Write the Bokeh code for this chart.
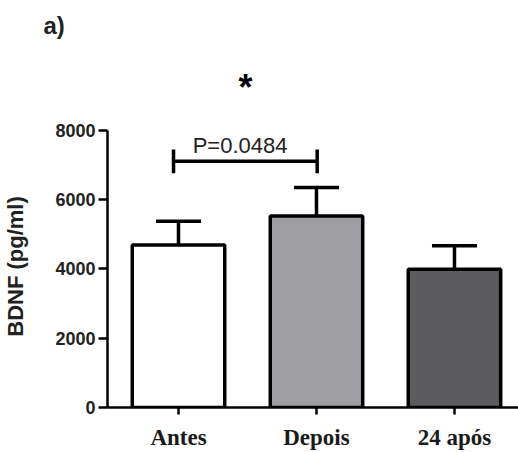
from bokeh.plotting import figure
from bokeh.models import ColumnDataSource, FixedTicker, Range1d, Label, Title
from bokeh.embed import file_html
from bokeh.resources import INLINE

# ---- data ----
groups = ["Antes", "Depois", "24 após"]
means = [4690, 5530, 3990]
sems = [690, 820, 680]
colors = ["#ffffff", "#9e9ea3", "#5c5c5f"]
yticks = [0, 2000, 4000, 6000, 8000]
p_text = "P=0.0484"
sig_mark = "*"
panel_tag = "a)"
y_label = "BDNF (pg/ml)"

xpos = list(range(len(groups)))
tops = [m + s for m, s in zip(means, sems)]
cap_half = 0.163

src = ColumnDataSource(dict(x=xpos, top=means, color=colors, etop=tops,
                            cl=[x - cap_half for x in xpos],
                            cr=[x + cap_half for x in xpos]))

p = figure(width=518, height=452, output_backend="svg", toolbar_location=None,
           x_range=Range1d(-0.5145, 2.464), y_range=Range1d(0, 8144),
           min_border_left=107, min_border_right=0, min_border_top=125,
           min_border_bottom=44, title=panel_tag)
p.outline_line_color = None
p.xgrid.visible = False
p.ygrid.visible = False
p.background_fill_color = "white"
p.border_fill_color = "white"

# panel tag (outer title row)
p.title.text_font = "Liberation Sans"
p.title.text_font_style = "bold"
p.title.text_font_size = "24px"
p.title.text_color = "#222222"
p.title.align = "left"
p.title.offset = -64
p.title.standoff = 17

# significance star (title row nearest the frame)
p.add_layout(Title(text=sig_mark, text_font="Liberation Sans", text_font_style="bold",
                   text_font_size="36px", text_color="black", align="left",
                   offset=131, standoff=35), "above")

# error bars (upper only)
p.segment(x0="x", y0="top", x1="x", y1="etop", source=src, line_color="black", line_width=3.5)
p.segment(x0="cl", y0="etop", x1="cr", y1="etop", source=src, line_color="black", line_width=3.5)
# bars
p.vbar(x="x", top="top", bottom=0, width=0.67, source=src, fill_color="color",
       line_color="black", line_width=3.5)

# significance bracket
bx0, bx1 = -0.036, 1.005
by, bc0, bc1 = 7108, 6763, 7453
p.segment(x0=[bx0, bx0, bx1], y0=[by, bc0, bc0], x1=[bx1, bx0, bx1], y1=[by, bc1, bc1],
          line_color="black", line_width=3.5)

p.add_layout(Label(x=0.446, y=7568, text=p_text, text_align="center",
                   text_baseline="alphabetic", text_font="Liberation Sans",
                   text_font_size="22px", text_color="#222222"))

# axes
xa = p.xaxis[0]
xa.ticker = FixedTicker(ticks=xpos)
xa.major_label_overrides = {i: g for i, g in zip(xpos, groups)}
xa.major_label_text_font = "Liberation Serif"
xa.major_label_text_font_style = "bold"
xa.major_label_text_font_size = "23px"
xa.major_label_text_color = "#1a1a1a"
xa.major_tick_out = 7
xa.major_tick_in = 0
xa.minor_tick_line_color = None
xa.major_label_standoff = 10
xa.axis_line_width = 2.5
xa.major_tick_line_width = 2.5

ya = p.yaxis[0]
ya.ticker = FixedTicker(ticks=yticks)
ya.bounds = (0, 8000)
ya.axis_label = y_label
ya.axis_label_text_font = "Liberation Sans"
ya.axis_label_text_font_style = "bold"
ya.axis_label_text_font_size = "22px"
ya.axis_label_text_color = "#222222"
ya.axis_label_standoff = 24
ya.major_label_text_font = "Liberation Sans"
ya.major_label_text_font_style = "bold"
ya.major_label_text_font_size = "18px"
ya.major_label_text_color = "#222222"
ya.major_tick_out = 9
ya.major_tick_in = 0
ya.minor_tick_line_color = None
ya.major_label_standoff = 3
ya.axis_line_width = 2.5
ya.major_tick_line_width = 2.5

open("out.html", "w").write(file_html(p, INLINE))
